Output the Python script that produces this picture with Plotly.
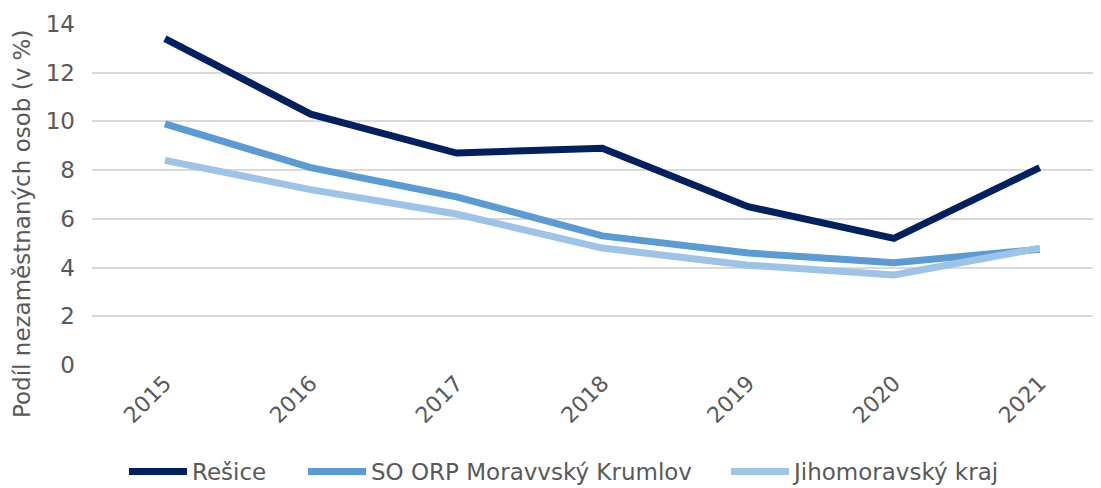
import plotly.graph_objects as go

years = [2015, 2016, 2017, 2018, 2019, 2020, 2021]
year_labels = ["2015", "2016", "2017", "2018", "2019", "2020", "2021"]
resice = [13.4, 10.3, 8.7, 8.9, 6.5, 5.2, 8.1]
so_orp = [9.9, 8.1, 6.9, 5.3, 4.6, 4.2, 4.75]
jihomoravsky = [8.4, 7.2, 6.2, 4.8, 4.1, 3.7, 4.8]
y_ticks = [0, 2, 4, 6, 8, 10, 12, 14]

series_names = ["Rešice", "SO ORP Moravvský Krumlov", "Jihomoravský kraj"]
series_vals = [resice, so_orp, jihomoravsky]
colors = ["#002060", "#5B9BD5", "#9DC3E6"]

FONT = "DejaVu Sans"
TXT = "#595959"

# page has an 8px body margin, so the figure is sized/offset accordingly
W, H = 1093, 480
L, R, T, B = 84, 0, 16, 123
plot_w = W - L - R
plot_h = H - T - B
step = 145.8
x_right = 2014.5 + plot_w / step
bottom = T + plot_h

legend_ids = ["legend", "legend2", "legend3"]
legend_px = [116, 295, 718]

fig = go.Figure()
for name, vals, c, lid in zip(series_names, series_vals, colors, legend_ids):
    fig.add_trace(go.Scatter(x=years, y=vals, name=name, mode="lines",
                             line=dict(color=c, width=7), legend=lid))

legend_common = dict(orientation="h", xanchor="left",
                     y=-(442 - bottom) / plot_h, yanchor="top",
                     font=dict(family=FONT, size=23, color=TXT),
                     itemwidth=58, bgcolor="rgba(0,0,0,0)")
legends = {}
for lid, px in zip(legend_ids, legend_px):
    legends[lid] = dict(legend_common, x=(px - L) / plot_w)

fig.update_layout(
    width=W, height=H,
    margin=dict(l=L, r=R, t=T, b=B, autoexpand=False),
    paper_bgcolor="white", plot_bgcolor="white",
    font=dict(family=FONT, size=22, color=TXT),
    showlegend=True,
    xaxis=dict(range=[2014.5, x_right], tickmode="array", tickvals=years,
               ticktext=year_labels, tickangle=-45, showgrid=False,
               zeroline=False, showline=False, ticks="",
               tickfont=dict(family=FONT, size=22, color=TXT)),
    yaxis=dict(range=[0, 14], tickmode="array", tickvals=y_ticks,
               showgrid=True, gridcolor="#D9D9D9", gridwidth=1.5,
               zeroline=False, showline=False, ticks="",
               ticklabelstandoff=16,
               tickfont=dict(family=FONT, size=23, color=TXT)),
    **legends,
)

fig.add_annotation(text="Podíl nezaměstnaných osob (v %)", textangle=-90,
                   xref="paper", yref="paper",
                   x=(14 - L) / plot_w, y=(bottom - 216) / plot_h,
                   xanchor="center", yanchor="middle", showarrow=False,
                   font=dict(family=FONT, size=23, color=TXT))

fig.write_html("out.html")
